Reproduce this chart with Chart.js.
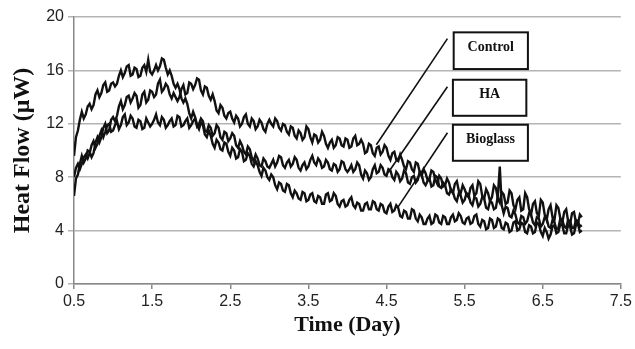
<!DOCTYPE html>
<html>
<head>
<meta charset="utf-8">
<script src="https://cdn.jsdelivr.net/npm/chart.js@4"></script>
<style>
  html, body { margin: 0; padding: 0; background: #fff; }
  #chart { display: block; }
</style>
</head>
<body>
<canvas id="chart" width="635" height="349"></canvas>
<script>
// sampling: every 0.025 day from 0.5 to 7.0
const startDay = 0.5;
const stepDay = 0.025;

const xTicks = [0.5, 1.5, 2.5, 3.5, 4.5, 5.5, 6.5, 7.5];
const yTicks = [0, 4, 8, 12, 16, 20];

const seriesNames = ['Control', 'HA', 'Bioglass'];

// Heat flow (uW)
const control = [
  6.6, 7.9, 8.2, 9.0, 9.6, 9.1, 9.4, 10.0, 9.9, 9.5, 9.8, 10.6, 11.0, 10.6, 11.0, 11.7, 12.0, 11.3, 11.5, 12.3,
  12.5, 12.2, 12.6, 13.3, 13.7, 13.1, 13.4, 14.0, 14.1, 13.6, 13.9, 14.3, 14.1, 13.2, 13.4, 14.2, 14.4, 13.6, 13.8, 14.5,
  14.4, 14.0, 14.2, 15.0, 15.3, 14.4, 14.6, 15.0, 14.8, 14.2, 13.9, 14.3, 14.0, 13.7, 14.0, 14.6, 14.9, 14.2, 14.3, 15.1,
  15.0, 14.6, 14.9, 15.4, 15.3, 14.5, 14.2, 14.8, 14.7, 14.1, 13.8, 14.2, 13.7, 13.0, 12.8, 13.4, 13.2, 12.6, 12.4, 12.8,
  12.9, 12.4, 12.1, 12.6, 12.4, 11.8, 12.0, 12.5, 12.7, 12.0, 11.8, 12.4, 12.2, 11.6, 11.8, 12.3, 12.1, 11.6, 11.4, 12.0,
  12.3, 12.0, 11.8, 12.4, 12.2, 11.7, 11.5, 12.0, 11.9, 11.4, 11.2, 11.8, 11.7, 11.1, 10.9, 11.5, 11.3, 10.8, 11.0, 11.8,
  11.6, 11.0, 10.6, 11.2, 11.1, 10.6, 10.8, 11.4, 11.1, 10.5, 10.2, 10.6, 10.8, 10.2, 10.4, 11.0, 10.9, 10.4, 10.3, 10.9,
  10.8, 10.2, 10.3, 10.9, 11.1, 10.4, 10.5, 10.8, 10.5, 9.8, 9.9, 10.5, 10.4, 9.8, 9.6, 10.2, 10.3, 9.7, 9.9, 10.4,
  10.2, 9.6, 9.3, 9.8, 9.9, 9.3, 9.2, 9.7, 9.3, 8.8, 8.6, 9.2, 9.1, 8.6, 8.4, 9.1, 9.0, 8.4, 8.1, 8.6,
  8.3, 7.8, 7.9, 8.5, 8.4, 7.8, 7.5, 8.1, 7.9, 7.3, 7.4, 7.9, 7.6, 7.0, 6.8, 7.5, 7.7, 7.0, 6.8, 7.4,
  7.1, 6.7, 6.5, 7.2, 7.4, 6.6, 6.8, 7.7, 7.5, 6.6, 6.4, 7.1, 6.8, 6.2, 6.5, 7.4, 7.2, 6.4, 6.1, 6.9,
  6.7, 6.0, 6.1, 7.0, 6.8, 5.9, 5.6, 6.3, 6.5, 5.5, 5.6, 6.8, 6.5, 5.6, 5.2, 6.0, 6.2, 5.3, 5.1, 6.3,
  6.1, 5.2, 4.8, 5.6, 5.9, 5.0, 4.8, 5.9, 5.7, 4.9, 4.6, 5.4, 5.6, 4.7, 4.5, 5.3, 5.4, 4.6, 4.5, 5.2,
  5.0
];

const ha = [
  8.0, 8.7, 9.0, 8.6, 9.0, 9.5, 9.7, 9.4, 9.8, 10.4, 10.7, 10.2, 10.5, 11.1, 11.5, 11.0, 11.4, 11.9, 12.0, 11.4,
  11.5, 11.9, 12.2, 11.6, 11.9, 12.5, 12.7, 11.9, 12.1, 12.6, 12.4, 11.8, 11.7, 12.3, 12.2, 11.6, 11.7, 12.4, 12.1, 11.8,
  12.0, 12.3, 12.7, 12.1, 11.9, 12.5, 12.3, 11.7, 11.9, 12.2, 12.4, 11.8, 11.9, 12.6, 12.5, 11.8, 11.9, 12.2, 12.4, 11.7,
  11.9, 12.2, 12.4, 11.8, 12.0, 12.4, 12.2, 11.5, 11.4, 11.9, 11.7, 11.1, 11.3, 11.9, 11.7, 11.0, 10.8, 11.4, 11.3, 10.7,
  10.9, 11.3, 11.1, 10.4, 10.2, 10.7, 10.4, 9.9, 9.7, 10.3, 10.1, 9.5, 9.2, 9.7, 9.4, 8.9, 8.8, 9.4, 9.2, 8.8,
  8.7, 9.0, 9.3, 8.8, 9.1, 9.6, 9.5, 8.9, 8.7, 9.1, 9.3, 8.8, 9.0, 9.5, 9.3, 8.7, 8.5, 8.9, 9.1, 8.6,
  8.8, 9.3, 9.6, 9.1, 8.9, 9.4, 9.2, 8.7, 8.8, 9.3, 9.1, 8.6, 8.5, 9.0, 8.9, 8.4, 8.6, 9.2, 9.1, 8.6,
  8.4, 8.6, 8.9, 8.4, 8.6, 9.1, 8.9, 8.2, 7.9, 8.5, 8.3, 7.8, 8.0, 8.6, 8.9, 8.3, 8.4, 8.9, 8.7, 8.2,
  8.1, 8.6, 8.5, 8.0, 7.8, 8.4, 8.2, 7.7, 7.9, 8.5, 8.3, 7.6, 7.5, 8.0, 8.1, 7.6, 7.8, 8.4, 8.2, 7.6,
  7.4, 7.7, 7.9, 7.3, 7.4, 8.1, 8.0, 7.3, 7.2, 7.6, 7.4, 6.8, 6.7, 7.1, 6.9, 6.4, 6.2, 6.8, 6.6, 6.1,
  6.3, 6.8, 6.7, 6.1, 5.9, 6.5, 6.4, 5.8, 6.0, 6.5, 6.4, 5.7, 5.6, 6.2, 6.1, 5.6, 5.7, 6.6, 8.8, 5.9,
  5.3, 5.8, 5.7, 5.1, 5.0, 5.5, 5.2, 4.6, 4.5, 5.1, 5.0, 4.5, 4.7, 5.3, 5.2, 4.6, 4.4, 5.0, 4.9, 4.3,
  4.5, 5.0, 4.9, 4.3, 4.2, 4.8, 4.6, 4.1, 4.2, 4.9, 4.8, 4.3, 4.2, 4.8, 4.7, 4.2, 4.2, 4.8, 4.7, 4.3,
  4.4
];

const bioglass = [
  9.6, 11.0, 11.5, 12.3, 12.9, 12.4, 12.7, 13.3, 13.5, 13.1, 13.4, 14.2, 14.5, 14.0, 14.3, 14.9, 15.1, 14.4, 14.5, 15.0,
  15.1, 14.8, 15.0, 15.6, 16.0, 15.5, 15.8, 16.3, 16.4, 15.6, 15.7, 16.2, 16.1, 15.5, 15.6, 16.2, 16.4, 15.9, 16.8, 15.9,
  15.7, 16.0, 16.4, 16.0, 16.3, 16.9, 16.8, 16.2, 15.7, 16.0, 15.6, 15.0, 14.7, 15.0, 14.6, 13.9, 13.6, 13.9, 13.5, 12.8,
  12.4, 12.9, 12.5, 11.9, 11.6, 12.1, 11.9, 11.2, 11.0, 11.5, 11.1, 10.5, 10.2, 10.8, 10.6, 10.1, 10.0, 10.6, 10.5, 9.9,
  9.6, 10.2, 10.0, 9.4, 9.5, 10.1, 9.9, 9.2, 9.3, 9.8, 9.6, 9.0, 8.8, 9.2, 8.9, 8.4, 8.1, 8.7, 8.5, 8.0,
  7.8, 8.2, 8.0, 7.4, 7.1, 7.6, 7.5, 7.0, 6.9, 7.5, 7.4, 6.8, 6.5, 7.0, 6.8, 6.4, 6.3, 6.9, 6.8, 6.2,
  6.3, 6.7, 6.8, 6.2, 6.1, 6.6, 6.5, 6.0, 6.0, 6.7, 6.8, 6.2, 6.3, 6.8, 6.6, 6.0, 5.8, 6.2, 6.3, 5.8,
  5.9, 6.3, 6.5, 5.9, 5.7, 6.1, 6.0, 5.5, 5.5, 6.0, 6.1, 5.6, 5.6, 6.2, 6.1, 5.6, 5.5, 6.0, 5.9, 5.4,
  5.3, 5.8, 6.0, 5.4, 5.5, 5.9, 5.7, 5.1, 5.0, 5.5, 5.4, 4.9, 4.9, 5.6, 5.5, 4.9, 4.7, 5.2, 5.0, 4.5,
  4.5, 4.9, 5.1, 4.5, 4.6, 5.2, 5.1, 4.6, 4.5, 5.1, 5.0, 4.5, 4.5, 5.0, 5.2, 4.7, 4.8, 5.3, 5.1, 4.6,
  4.5, 4.9, 5.0, 4.5, 4.6, 5.1, 5.2, 4.5, 4.3, 4.8, 4.7, 4.1, 4.2, 4.9, 4.8, 4.2, 4.3, 4.9, 4.8, 4.2,
  4.1, 4.6, 4.5, 3.9, 4.0, 4.6, 4.7, 4.0, 4.1, 4.6, 4.5, 3.9, 3.8, 4.4, 4.3, 3.8, 3.9, 4.6, 4.5, 3.9,
  3.6, 4.2, 3.9, 3.4, 3.7, 4.3, 4.4, 3.8, 3.9, 4.5, 4.4, 3.8, 3.8, 4.4, 4.3, 3.7, 3.8, 4.4, 4.5, 3.9,
  4.0
];

function toPoints(values) {
  return values.map((v, i) => ({ x: startDay + i * stepDay, y: v }));
}

// callout boxes + leader lines, in data units
const callouts = [
  { text: 'Control',  box: [5.36, 18.85, 6.31, 16.1],  from: [5.28, 18.38], to: [4.37, 10.43] },
  { text: 'HA',       box: [5.35, 15.3, 6.29, 12.6],   from: [5.28, 14.78], to: [4.52, 8.33] },
  { text: 'Bioglass', box: [5.35, 11.93, 6.31, 9.23],  from: [5.28, 11.33], to: [4.64, 5.70] }
];

const calloutPlugin = {
  id: 'callouts',
  afterDatasetsDraw(chart) {
    const ctx = chart.ctx;
    const xs = chart.scales.x, ys = chart.scales.y;
    ctx.save();
    callouts.forEach(c => {
      // leader line
      ctx.strokeStyle = '#111';
      ctx.lineWidth = 1.6;
      ctx.beginPath();
      ctx.moveTo(xs.getPixelForValue(c.from[0]), ys.getPixelForValue(c.from[1]));
      ctx.lineTo(xs.getPixelForValue(c.to[0]), ys.getPixelForValue(c.to[1]));
      ctx.stroke();
      // box
      const x1 = xs.getPixelForValue(c.box[0]), y1 = ys.getPixelForValue(c.box[1]);
      const x2 = xs.getPixelForValue(c.box[2]), y2 = ys.getPixelForValue(c.box[3]);
      ctx.fillStyle = '#fff';
      ctx.fillRect(x1, y1, x2 - x1, y2 - y1);
      ctx.lineWidth = 2;
      ctx.strokeRect(x1, y1, x2 - x1, y2 - y1);
      ctx.fillStyle = '#111';
      ctx.font = 'bold 14px "Liberation Serif", serif';
      ctx.textAlign = 'center';
      ctx.textBaseline = 'middle';
      ctx.fillText(c.text, (x1 + x2) / 2, y1 + (y2 - y1) * 0.42);
    });
    ctx.restore();
  }
};

const lineStyle = {
  borderColor: '#111',
  borderWidth: 2.4,
  pointRadius: 0,
  fill: false,
  tension: 0
};

new Chart(document.getElementById('chart'), {
  type: 'line',
  data: {
    datasets: [
      Object.assign({ label: seriesNames[0], data: toPoints(control) }, lineStyle),
      Object.assign({ label: seriesNames[1], data: toPoints(ha) }, lineStyle),
      Object.assign({ label: seriesNames[2], data: toPoints(bioglass) }, lineStyle)
    ]
  },
  options: {
    responsive: false,
    animation: false,
    devicePixelRatio: 1,
    layout: { padding: { left: 0, right: 14, top: 17, bottom: 0 } },
    plugins: {
      legend: { display: false },
      tooltip: { enabled: false }
    },
    scales: {
      x: {
        type: 'linear',
        min: xTicks[0],
        max: xTicks[xTicks.length - 1],
        afterFit: (scale) => { scale.height = 65; },
        ticks: {
          stepSize: 1,
          color: '#222',
          font: { family: '"Liberation Sans", Arial, sans-serif', size: 16 },
          maxRotation: 0,
          padding: 3
        },
        grid: { drawOnChartArea: false, drawTicks: true, tickLength: 5, color: '#888', lineWidth: 1.5 },
        border: { color: '#888', width: 1.5 },
        title: {
          display: true,
          text: 'Time (Day)',
          color: '#111',
          font: { family: '"Liberation Serif", "Times New Roman", serif', size: 22, weight: 'bold' },
          padding: { top: 0, bottom: 10 }
        }
      },
      y: {
        min: yTicks[0],
        max: yTicks[yTicks.length - 1],
        afterFit: (scale) => { scale.width = 74; },
        ticks: {
          stepSize: 4,
          color: '#222',
          font: { family: '"Liberation Sans", Arial, sans-serif', size: 16 },
          padding: 4
        },
        grid: { color: '#b4b4b4', lineWidth: 1.5, drawTicks: true, tickLength: 6 },
        border: { color: '#888', width: 1.5 },
        title: {
          display: true,
          text: 'Heat Flow (μW)',
          color: '#111',
          font: { family: '"Liberation Serif", "Times New Roman", serif', size: 24, weight: 'bold' },
          padding: { top: 8, bottom: 0 }
        }
      }
    }
  },
  plugins: [calloutPlugin]
});
</script>
</body>
</html>
